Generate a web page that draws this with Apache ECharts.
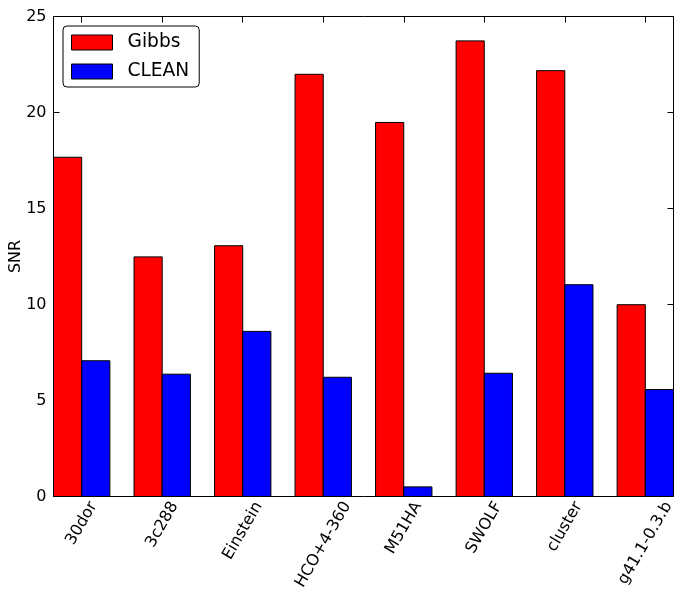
<!DOCTYPE html>
<html>
<head>
<meta charset="utf-8">
<script src="https://cdn.jsdelivr.net/npm/echarts@6/dist/echarts.min.js"></script>
<style>html,body{margin:0;padding:0;background:#fff}#c{width:685px;height:601px}</style>
</head>
<body>
<div id="c"></div>
<script>
const categories = ['30dor', '3c288', 'Einstein', 'HCO+4-360', 'M51HA', 'SWOLF', 'cluster', 'g41.1-0.3.b'];
const gibbs = [17.67, 12.48, 13.06, 21.99, 19.48, 23.73, 22.18, 9.99];
const clean = [7.07, 6.37, 8.6, 6.21, 0.5, 6.42, 11.03, 5.57];
const yTicks = [0, 5, 10, 15, 20, 25];

const FONT = 'DejaVu Sans';
const TICK_FS = 16;
const BAR_W = 0.35;
const tickPos = categories.map((c, i) => i + BAR_W);

const chart = echarts.init(document.getElementById('c'), null, {renderer: 'canvas'});
const mctx = document.createElement('canvas').getContext('2d');
mctx.font = TICK_FS + 'px "' + FONT + '"';

function barSeries(name, values, offset, color) {
  return {
    type: 'custom', name: name,
    itemStyle: {color: color, borderColor: '#000', borderWidth: 1},
    data: values.map((v, i) => [i, v]),
    encode: {x: 0, y: 1},
    renderItem: function (params, api) {
      const i = api.value(0), v = api.value(1);
      const p0 = api.coord([i + offset, v]);
      const p1 = api.coord([i + offset + BAR_W, 0]);
      return {type: 'rect', shape: {x: p0[0], y: p0[1], width: p1[0] - p0[0], height: p1[1] - p0[1]},
        style: {fill: color, stroke: '#000', lineWidth: 1}};
    }
  };
}

const axLine = {show: true, onZero: false, lineStyle: {color: '#000', width: 1}};

const option = {
  backgroundColor: '#fff',
  animation: false,
  grid: {left: 53.5, right: 11.5, top: 16.5, bottom: 104.5, containLabel: false, outerBoundsMode: 'none'},
  legend: {
    orient: 'vertical', left: 63, top: 26,
    data: ['Gibbs', 'CLEAN'],
    icon: 'rect', itemWidth: 41, itemHeight: 15, itemGap: 10,
    padding: [7, 10, 6, 8],
    borderColor: '#000', borderWidth: 1, borderRadius: 4,
    backgroundColor: '#fff',
    itemStyle: {borderColor: '#000', borderWidth: 1},
    textStyle: {fontFamily: FONT, fontSize: 18.6, color: '#000', padding: [0, 0, 0, 10]}
  },
  xAxis: [
    {type: 'value', min: 0, max: 7.7, position: 'bottom',
      axisLine: axLine,
      axisTick: {show: true, inside: true, length: 6, customValues: tickPos, lineStyle: {color: '#000'}},
      axisLabel: {show: false},
      splitLine: {show: false}},
    {type: 'value', min: 0, max: 7.7, position: 'top',
      axisLine: axLine,
      axisTick: {show: true, inside: true, length: 6, customValues: tickPos, lineStyle: {color: '#000'}},
      axisLabel: {show: false},
      splitLine: {show: false}}
  ],
  yAxis: [
    {type: 'value', min: 0, max: 25, interval: 5, position: 'left',
      name: 'SNR', nameLocation: 'middle', nameGap: 30, nameRotate: 90, nameMoveOverlap: false,
      nameTextStyle: {fontFamily: FONT, fontSize: 16, color: '#000'},
      axisLine: axLine,
      axisTick: {show: true, inside: true, length: 6, lineStyle: {color: '#000'}},
      axisLabel: {fontFamily: FONT, fontSize: TICK_FS, color: '#000', margin: 7,
        customValues: yTicks},
      splitLine: {show: false}},
    {type: 'value', min: 0, max: 25, interval: 5, position: 'right',
      axisLine: axLine,
      axisTick: {show: true, inside: true, length: 6, lineStyle: {color: '#000'}},
      axisLabel: {show: false},
      splitLine: {show: false}}
  ],
  series: [
    barSeries('Gibbs', gibbs, 0, '#ff0000'),
    barSeries('CLEAN', clean, BAR_W, '#0000ff'),
    {
      type: 'custom', name: 'labels', silent: true, clip: false,
      data: tickPos.map((p, i) => [p, 0, i]),
      encode: {x: 0, y: 1},
      renderItem: function (params, api) {
        const p = api.coord([api.value(0), 0]);
        const txt = categories[api.value(2)];
        const L = mctx.measureText(txt).width;
        const h = TICK_FS * 1.17;
        const top = p[1] + 2;
        const cy = top + L * Math.sin(Math.PI / 3) / 2 + h * 0.5 / 2;
        return {type: 'text', x: p[0], y: cy, rotation: Math.PI / 3,
          style: {text: txt, fontFamily: FONT, fontSize: TICK_FS, fill: '#000',
            align: 'center', verticalAlign: 'middle'}};
      }
    }
  ]
};
chart.setOption(option);
</script>
</body>
</html>
